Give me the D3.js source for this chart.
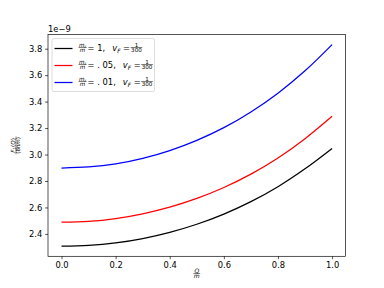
<!DOCTYPE html>
<html>
<head>
<meta charset="utf-8">
<script src="https://cdn.jsdelivr.net/npm/d3@7"></script>
<style>
  body { margin: 0; background: #fff; }
  text { font-family: "DejaVu Sans", sans-serif; fill: #000; }
</style>
</head>
<body>
<svg id="svg1" width="384" height="288"></svg>
<script>
'use strict';

// data (values in units of 1e-9)
const qValues = [0, 0.1, 0.2, 0.3, 0.4, 0.5, 0.6, 0.7, 0.8, 0.9, 1.0];
const fMr1   = [2.307, 2.313, 2.332, 2.365, 2.412, 2.473, 2.550, 2.644, 2.757, 2.892, 3.046];
const fMr05  = [2.489, 2.495, 2.516, 2.552, 2.602, 2.668, 2.751, 2.852, 2.974, 3.120, 3.289];
const fMr01  = [2.898, 2.906, 2.929, 2.971, 3.030, 3.107, 3.203, 3.322, 3.464, 3.633, 3.831];
const massRatios = ["1", ". 05", ". 01"];
const lineColors = ["#000000", "#ff0000", "#0000ff"];
const xTicks = [0, 0.2, 0.4, 0.6, 0.8, 1.0];
const yTicks = [2.4, 2.6, 2.8, 3.0, 3.2, 3.4, 3.6, 3.8];

let svg = d3.select("#svg1");
let marginTop = 34.5, marginBottom = 31.7, marginLeft = 48, marginRight = 38.4;
let width = 384 - marginLeft - marginRight,
    height = 288 - marginTop - marginBottom;
let fs = 8.33;

let allY = fMr1.concat(fMr05, fMr01);
let yMin = d3.min(allY), yMax = d3.max(allY), yPad = (yMax - yMin) * 0.05;
let x = d3.scaleLinear().domain([-0.05, 1.05]).range([0, width]);
let y = d3.scaleLinear().domain([yMin - yPad, yMax + yPad]).range([height, 0]);

let g = svg.append("g").attr("transform", `translate(${marginLeft},${marginTop})`);

// axes
let xAxis = g.append("g")
  .attr("transform", `translate(0,${height})`)
  .call(d3.axisBottom(x).tickValues(xTicks).tickFormat(d3.format(".1f")).tickSize(2.9).tickPadding(2.9));
let yAxis = g.append("g")
  .call(d3.axisLeft(y).tickValues(yTicks).tickFormat(d3.format(".1f")).tickSize(2.9).tickPadding(2.9));
[xAxis, yAxis].forEach(a => {
  a.select(".domain").remove();
  a.selectAll(".tick line").attr("stroke", "#000").attr("stroke-width", 0.67);
  a.selectAll(".tick text").style("font-size", fs + "px").style("font-family", "DejaVu Sans");
});

// lines
let series = [fMr1, fMr05, fMr01];
let line = d3.line()
  .x((d, i) => x(qValues[i]))
  .y(d => y(d))
  .curve(d3.curveCatmullRom);
series.forEach((s, k) => {
  g.append("path").datum(s)
    .attr("fill", "none")
    .attr("stroke", lineColors[k])
    .attr("stroke-width", 1.25)
    .attr("d", line);
});

// frame
g.append("rect").attr("x", 0).attr("y", 0).attr("width", width).attr("height", height)
  .attr("fill", "none").attr("stroke", "#000").attr("stroke-width", 0.67);

// helper: stacked fraction, left edge at x0, fraction bar at yb, returns width
function addFrac(parent, x0, yb, numParts, denParts, size, rotate) {
  let gr = parent.append("g");
  let mk = (parts, yy) => {
    let t = gr.append("text").attr("y", yy).style("font-size", size + "px");
    parts.forEach(p => {
      let ts = t.append("tspan").text(p.t);
      if (p.i) ts.style("font-style", "italic");
      if (p.dy) ts.attr("dy", p.dy);
      if (p.s) ts.style("font-size", p.s + "px");
    });
    return t;
  };
  let num = mk(numParts, yb - 1.0);
  let den = mk(denParts, yb + size * 0.78);
  let w = Math.max(num.node().getComputedTextLength(), den.node().getComputedTextLength()) + 1;
  num.attr("x", x0 + (w - num.node().getComputedTextLength()) / 2);
  den.attr("x", x0 + (w - den.node().getComputedTextLength()) / 2);
  gr.append("line").attr("x1", x0).attr("x2", x0 + w).attr("y1", yb).attr("y2", yb)
    .attr("stroke", "#000").attr("stroke-width", 0.5);
  return { g: gr, w: w };
}

// offset text
svg.append("text").attr("x", 48).attr("y", 31.5).style("font-size", fs + "px").text("1e\u22129");

// x label
let xl = addFrac(svg, 0, 273.5, [{ t: "Q", i: true }], [{ t: "m", i: true }], 6);
xl.g.attr("transform", `translate(${marginLeft + x(0.5) - xl.w / 2},0)`);

// y label (rotated)
let yl = addFrac(svg, 0, 0,
  [{ t: "F", i: true }, { t: "1", s: 4, dy: 1 }, { t: "(", dy: -1 }, { t: "Q", i: true }, { t: ")" }],
  [{ t: "(8\u03c0", }, { t: "m", i: true }, { t: ")" }], 5.6);
yl.g.attr("transform", `translate(16,${marginTop + height / 2 + yl.w / 2}) rotate(-90)`);

// legend
let legend = svg.append("g").attr("transform", "translate(52,38.5)");
legend.append("rect").attr("x", 0).attr("y", 0).attr("width", 102.5).attr("height", 53)
  .attr("rx", 2).attr("fill", "#fff").attr("fill-opacity", 0.8)
  .attr("stroke", "#cccccc").attr("stroke-width", 0.67);

massRatios.forEach((mr, k) => {
  let ly = 10 + k * 17;
  legend.append("line").attr("x1", 2.5).attr("x2", 20.5).attr("y1", ly).attr("y2", ly)
    .attr("stroke", lineColors[k]).attr("stroke-width", 1.25);
  let cx = 26.5;
  let f1 = addFrac(legend, cx, ly - 1,
    [{ t: "m", i: true }, { t: "r", i: true, s: 4, dy: 1 }], [{ t: "m", i: true }], 5.6);
  cx += f1.w + 1;
  let t1 = legend.append("text").attr("x", cx).attr("y", ly + 2.5).style("font-size", fs + "px")
    .text("= " + mr + ",");
  cx += t1.node().getComputedTextLength() + 7;
  let t2 = legend.append("text").attr("x", cx).attr("y", ly + 2.5).style("font-size", fs + "px");
  t2.append("tspan").text("v").style("font-style", "italic");
  t2.append("tspan").text("F").style("font-style", "italic").style("font-size", "5.8px").attr("dy", 1.5);
  t2.append("tspan").text(" = ").attr("dy", -1.5);
  cx += t2.node().getComputedTextLength() + 0.5;
  addFrac(legend, cx, ly - 1, [{ t: "1" }], [{ t: "300" }], 5.6);
});
</script>
</body>
</html>
